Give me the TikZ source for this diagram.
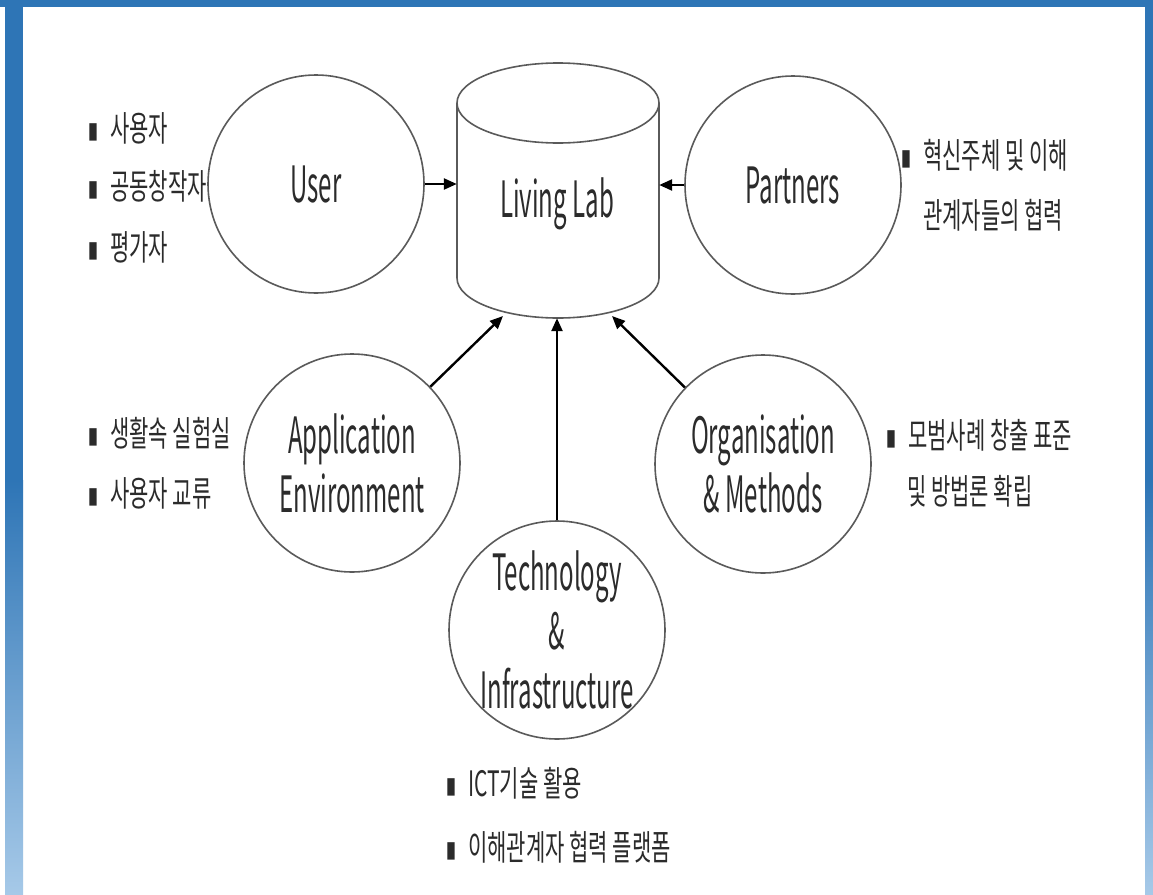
\documentclass[tikz,border=0pt]{standalone}
\usepackage{fontspec}
\setmainfont{Noto Sans CJK KR}
\newfontfamily\labfont[FakeStretch=0.48]{Noto Sans CJK KR}
\newfontfamily\korfont[FakeStretch=0.6]{Noto Sans CJK KR}
\newfontfamily\dotfont[FakeStretch=0.42]{DejaVu Sans}
\usetikzlibrary{shapes.geometric,arrows.meta,positioning}
\definecolor{frameblue}{HTML}{2E75B6}
\definecolor{fadeblue}{HTML}{A6C9E8}
\definecolor{ink}{HTML}{2B2B2B}
\definecolor{rim}{HTML}{5A5A5A}
\newcommand{\listdot}{\makebox[22pt][l]{\dotfont ▪}}
\tikzset{
  title/.style={text=ink, align=center, font=\labfont\fontsize{50}{59}\selectfont},
  ring/.style={title, ellipse, draw=rim, line width=1.6pt, minimum width=216pt, minimum height=218pt, inner sep=-25pt},
  cyl/.style={draw=rim, line width=1.6pt},
  cylbox/.style={rectangle, minimum width=202pt, minimum height=256pt, inner sep=0pt},
  note/.style={anchor=west, inner sep=0pt, text=ink, font=\korfont\fontsize{35}{40}\selectfont},
  link/.style={-{Triangle[length=13pt,width=11pt]}, line width=2.4pt, draw=black},
}

\begin{document}
\begin{tikzpicture}[x=1pt, y=-1pt]

  % frame
  \useasboundingbox (0,0) rectangle (1153,894);
  \fill[white] (0,0) rectangle (1153,894);
  \fill[frameblue] (0,0) rectangle (1153,7);
  \fill[frameblue] (5,7) rectangle (23,480);
  \shade[top color=frameblue, bottom color=fadeblue] (5,480) rectangle (23,894);
  \fill[frameblue] (1145,7) rectangle (1153,480);
  \shade[top color=frameblue, bottom color=fadeblue] (1145,480) rectangle (1153,894);

  % living lab
  \node[cylbox] (lab) at (558,190) {};
  \draw[cyl] (558,103) ellipse [x radius=101pt, y radius=40pt];
  \draw[cyl] (457,103) -- (457,278) arc [start angle=180, end angle=360, x radius=101pt, y radius=40pt] -- (659,103);
  \node[title] (labtext) at (557,204) {Living Lab};

  % elements
  \node[ring] (user) at (316,184) {User};
  \node[ring] (partners) at (793,185) {Partners};
  \node[ring] (app) at (352,463) {Application\\Environment};
  \node[ring] (org) at (763,464) {Organisation\\\& Methods};
  \node[ring] (tech) at (557,630) {Technology\\\&\\Infrastructure};

  \coordinate (append) at (503,316);
  \coordinate (orgend) at (612,316);

  \draw[link] (user.east) -- (user.east -| lab.west);
  \draw[link] (partners.west) -- (partners.west -| lab.east);
  \draw[link] (app) -- (append);
  \draw[link] (tech) -- (tech |- lab.south);
  \draw[link] (org) -- (orgend);

  % notes
  \node[note] (user1) at (88,128) {\listdot 사용자};
  \node[note] (user2) at (88,186) {\listdot 공동창작자};
  \node[note] (user3) at (88,247) {\listdot 평가자};

  \node[note] (part1) at (901,155) {\listdot 혁신주체 및 이해};
  \node[note] (part2) at (923,215) {관계자들의 협력};

  \node[note] (app1) at (88,433) {\listdot 생활속 실험실};
  \node[note] (app2) at (88,493) {\listdot 사용자 교류};

  \node[note] (org1) at (886,435) {\listdot 모범사례 창출 표준};
  \node[note] (org2) at (907,491) {및 방법론 확립};

  \node[note] (tech1) at (446,783) {\listdot ICT기술 활용};
  \node[note] (tech2) at (446,847) {\listdot 이해관계자 협력 플랫폼};

\end{tikzpicture}
\end{document}
